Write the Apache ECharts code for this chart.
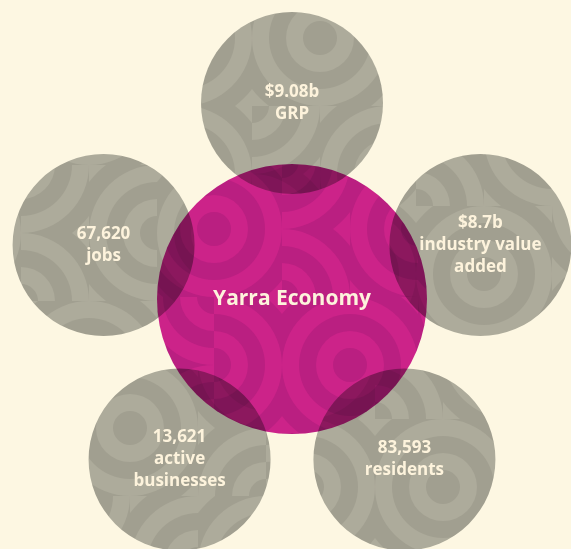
<!DOCTYPE html>
<html>
<head>
<meta charset="utf-8">
<title>Yarra Economy</title>
<script src="https://cdn.jsdelivr.net/npm/echarts@6/dist/echarts.min.js"></script>
<style>
  html, body { margin: 0; padding: 0; background: #fdf7e2; }
  #container { width: 571px; height: 549px; }
</style>
</head>
<body>
<div id="container"></div>
<script>
  // data
  var hubLabel = 'Yarra Economy';
  var figures = ['$9.08b', '67,620', '13,621', '83,593', '$8.7b'];
  var captions = ['GRP', 'jobs', 'active\nbusinesses', 'residents', 'industry value\nadded'];
  var angles = [90, 164, 235, 305, 16];   // position around the hub, degrees

  // truchet-like ring pattern: each cell holds quarter rings around one corner
  // 0 = top-left, 1 = top-right, 2 = bottom-right, 3 = bottom-left
  var cellCorners = [
    [2, 3, 1, 3],
    [1, 0, 2, 0],
    [0, 2, 2, 3],
    [3, 1, 1, 0]
  ];
  function makeTile(light, dark) {
    var band = 17, cell = band * 4, n = 4, s = cell * n;
    var c = document.createElement('canvas');
    c.width = s; c.height = s;
    var ctx = c.getContext('2d');
    ctx.fillStyle = light;
    ctx.fillRect(0, 0, s, s);
    for (var r = 0; r < n; r++) {
      for (var q = 0; q < n; q++) {
        var x0 = q * cell, y0 = r * cell, k = cellCorners[r][q];
        var cx = x0 + ((k === 1 || k === 2) ? cell : 0);
        var cy = y0 + ((k === 2 || k === 3) ? cell : 0);
        ctx.save();
        ctx.beginPath();
        ctx.rect(x0, y0, cell, cell);
        ctx.clip();
        for (var b = 6; b >= 1; b--) {
          ctx.beginPath();
          ctx.arc(cx, cy, b * band, 0, Math.PI * 2);
          ctx.fillStyle = (b % 2) ? dark : light;
          ctx.fill();
        }
        ctx.restore();
      }
    }
    return c;
  }
  var greyTile = makeTile('#adab9b', '#a19f90');
  var pinkTile = makeTile('#ce249b', '#bb2091');

  var dom = document.getElementById('container');
  var myChart = echarts.init(dom, null, { renderer: 'canvas' });

  var satData = figures.map(function (f, i) {
    return { value: [1, angles[i]], name: f + '\n' + captions[i] };
  });

  var option = {
    backgroundColor: '#fdf7e2',
    animation: false,
    polar: { center: [292, 299], radius: 196 },
    radiusAxis: { min: 0, max: 1, show: false },
    angleAxis: { type: 'value', min: 0, max: 360, startAngle: 0, clockwise: false, show: false },
    series: [
      {
        type: 'custom',
        coordinateSystem: 'polar',
        data: satData,
        renderItem: function (params, api) {
          var p = api.coord([api.value(0), api.value(1)]);
          var i = params.dataIndex;
          return {
            type: 'circle',
            shape: { cx: p[0], cy: p[1], r: 91 },
            style: {
              fill: { image: greyTile, repeat: 'repeat', x: i * 41 - 20, y: i * 59 - 30 }
            },
            textContent: {
              style: {
                text: satData[i].name,
                fill: '#fdf3dc',
                fontFamily: 'Open Sans',
                fontWeight: 'bold',
                fontSize: 17,
                lineHeight: 22,
                align: 'center'
              }
            },
            textConfig: { position: 'inside' }
          };
        }
      },
      {
        // hub disc, multiplied over the grey discs
        type: 'custom',
        coordinateSystem: 'polar',
        blendMode: 'multiply',
        data: [{ value: [0, 0], name: hubLabel }],
        renderItem: function (params, api) {
          var p = api.coord([api.value(0), api.value(1)]);
          return {
            type: 'circle',
            shape: { cx: p[0], cy: p[1], r: 135 },
            style: {
              fill: { image: pinkTile, repeat: 'repeat', x: 10, y: 25 }
            }
          };
        }
      },
      {
        // hub label
        type: 'custom',
        coordinateSystem: 'polar',
        data: [{ value: [0, 0], name: hubLabel }],
        renderItem: function (params, api) {
          var p = api.coord([api.value(0), api.value(1)]);
          return {
            type: 'text',
            x: p[0],
            y: p[1],
            style: {
              text: hubLabel,
              fill: '#fdf3dc',
              fontFamily: 'Open Sans',
              fontWeight: 'bold',
              fontSize: 21,
              align: 'center',
              verticalAlign: 'middle'
            }
          };
        }
      }
    ]
  };

  myChart.setOption(option);
  window.addEventListener('resize', myChart.resize);
</script>
</body>
</html>
